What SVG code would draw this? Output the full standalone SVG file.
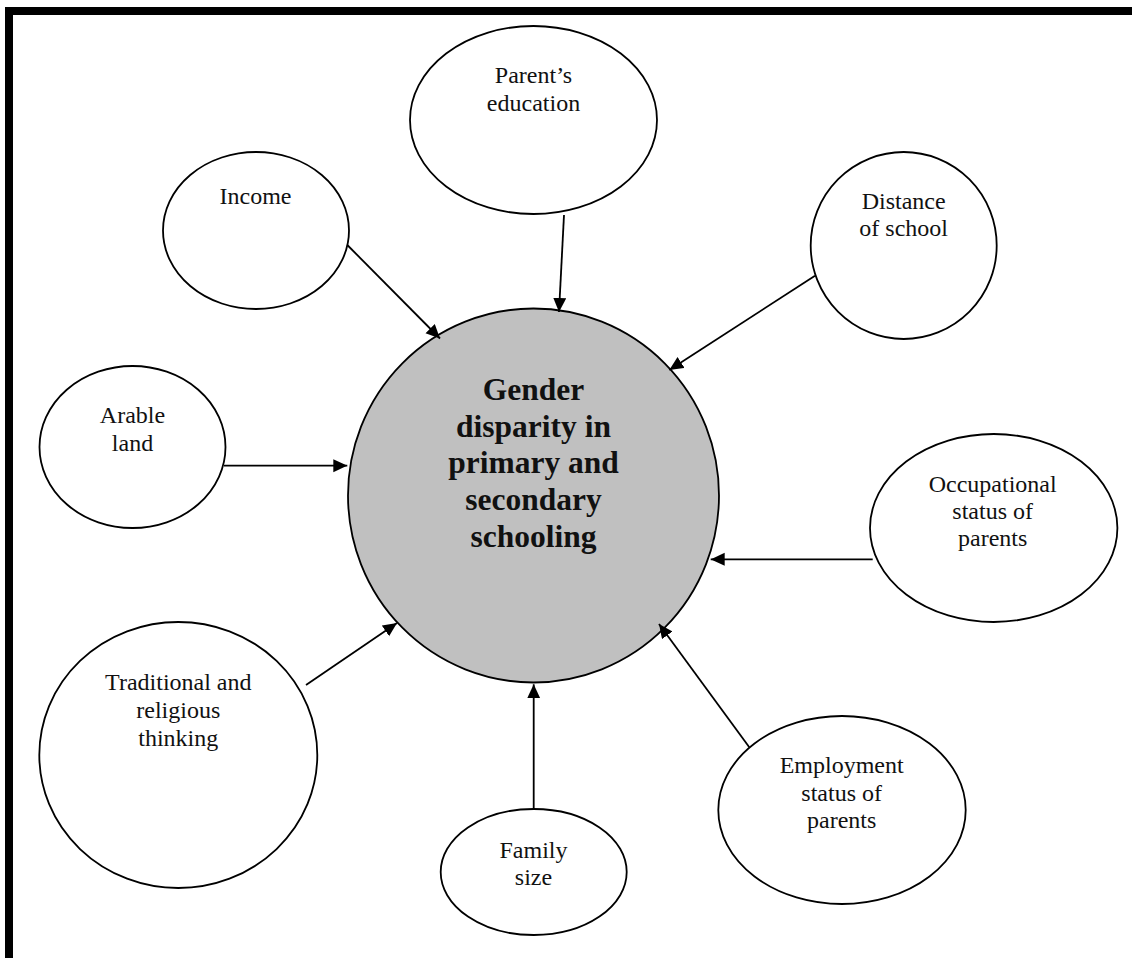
<svg xmlns="http://www.w3.org/2000/svg" width="1132" height="958" viewBox="0 0 1132 958">
  <style>
    .node { fill: #ffffff; stroke: #000000; stroke-width: 1.8; }
    .hub { fill: #c0c0c0; stroke: #000000; stroke-width: 1.8; }
    .lbl { font-family: "Liberation Serif", "Times New Roman", serif; font-size: 24px; fill: #111111; text-anchor: middle; }
    .hubLbl { font-family: "Liberation Serif", "Times New Roman", serif; font-size: 31.5px; font-weight: bold; fill: #111111; text-anchor: middle; }
    .conn { stroke: #000000; stroke-width: 1.8; fill: none; marker-end: url(#arrow); }
  </style>
  <defs>
    <marker id="arrow" markerUnits="userSpaceOnUse" markerWidth="14" markerHeight="14" refX="14" refY="6.5" orient="auto">
      <path d="M0,0 L14,6.5 L0,13 Z" fill="#000000"/>
    </marker>
  </defs>

  <rect width="1132" height="958" fill="#ffffff"/>

  <!-- frame: heavy rules along top and left -->
  <rect x="5" y="7" width="1127" height="8" fill="#000000"/>
  <rect x="5" y="7" width="8" height="951" fill="#000000"/>

  <!-- central factor -->
  <g id="gender-disparity">
    <ellipse class="hub" cx="533.5" cy="495.5" rx="185.5" ry="187"/>
    <text class="hubLbl" x="533.5" y="400">Gender</text>
    <text class="hubLbl" x="533.5" y="437">disparity in</text>
    <text class="hubLbl" x="533.5" y="473">primary and</text>
    <text class="hubLbl" x="533.5" y="510">secondary</text>
    <text class="hubLbl" x="533.5" y="547">schooling</text>
  </g>

  <g id="parents-education">
    <ellipse class="node" cx="533.5" cy="120" rx="123.5" ry="94"/>
    <text class="lbl" x="533.5" y="83">Parent’s</text>
    <text class="lbl" x="533.5" y="110.5">education</text>
  </g>

  <g id="income">
    <ellipse class="node" cx="256" cy="230.5" rx="93" ry="78.5"/>
    <text class="lbl" x="255.5" y="204">Income</text>
  </g>

  <g id="distance-of-school">
    <ellipse class="node" cx="903.7" cy="245.5" rx="93" ry="93.5"/>
    <text class="lbl" x="903.7" y="209">Distance</text>
    <text class="lbl" x="903.7" y="236">of school</text>
  </g>

  <g id="arable-land">
    <ellipse class="node" cx="132.5" cy="447" rx="93" ry="81"/>
    <text class="lbl" x="132.5" y="423">Arable</text>
    <text class="lbl" x="132.5" y="450.5">land</text>
  </g>

  <g id="occupational-status">
    <ellipse class="node" cx="993.7" cy="528" rx="123.7" ry="94"/>
    <text class="lbl" x="992.7" y="491.5">Occupational</text>
    <text class="lbl" x="992.7" y="518.5">status of</text>
    <text class="lbl" x="992.7" y="545.5">parents</text>
  </g>

  <g id="traditional-religious-thinking">
    <ellipse class="node" cx="178.3" cy="755" rx="139" ry="133"/>
    <text class="lbl" x="178.3" y="690">Traditional and</text>
    <text class="lbl" x="178.3" y="718">religious</text>
    <text class="lbl" x="178.3" y="746">thinking</text>
  </g>

  <g id="family-size">
    <ellipse class="node" cx="533.7" cy="872" rx="93" ry="63"/>
    <text class="lbl" x="533.5" y="858">Family</text>
    <text class="lbl" x="533.5" y="885">size</text>
  </g>

  <g id="employment-status">
    <ellipse class="node" cx="842" cy="810" rx="123.7" ry="94"/>
    <text class="lbl" x="841.7" y="773">Employment</text>
    <text class="lbl" x="841.7" y="800.5">status of</text>
    <text class="lbl" x="841.7" y="828">parents</text>
  </g>

  <!-- arrows into the central factor -->
  <g id="connectors">
    <line class="conn" x1="564" y1="215" x2="559" y2="312"/>
    <line class="conn" x1="347.3" y1="245" x2="440" y2="338.5"/>
    <line class="conn" x1="815" y1="275.7" x2="669.3" y2="370"/>
    <line class="conn" x1="224" y1="465.7" x2="347.3" y2="465.7"/>
    <line class="conn" x1="872.7" y1="559.3" x2="710.7" y2="559.3"/>
    <line class="conn" x1="306" y1="685" x2="397" y2="623"/>
    <line class="conn" x1="533.7" y1="809" x2="533.7" y2="684.3"/>
    <line class="conn" x1="749.3" y1="747.3" x2="659" y2="624"/>
  </g>
</svg>
